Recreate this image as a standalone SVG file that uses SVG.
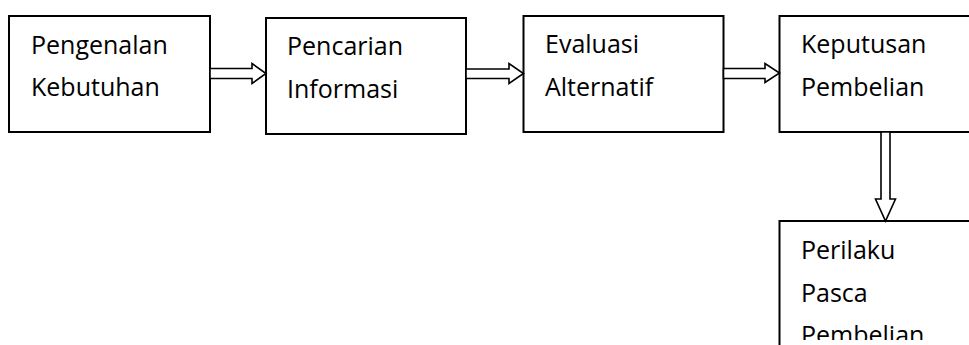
<svg xmlns="http://www.w3.org/2000/svg" width="969" height="345" viewBox="0 0 969 345">
<style>
.box{fill:#fff;stroke:#000;stroke-width:2}
.arr{fill:#fff;stroke:#000;stroke-width:1.6;stroke-linejoin:miter}
text{font-family:"Open Sans","Noto Sans",sans-serif;font-size:25px;fill:#000}
</style>
<defs><clipPath id="clip"><rect x="0" y="0" width="969" height="340"/></clipPath></defs>
<rect width="969" height="345" fill="#fff"/>
<g id="n1"><rect class="box" x="9" y="16" width="201" height="116"/><text x="31" y="54">Pengenalan</text><text x="31" y="96">Kebutuhan</text></g>
<g id="n2"><rect class="box" x="266" y="18" width="200" height="116"/><text x="287" y="55">Pencarian</text><text x="287" y="98">Informasi</text></g>
<g id="n3"><rect class="box" x="523.5" y="16" width="200" height="116"/><text x="545" y="53">Evaluasi</text><text x="545" y="96">Alternatif</text></g>
<g id="n4"><rect class="box" x="779.5" y="16" width="200" height="116"/><text x="801" y="53">Keputusan</text><text x="801" y="96">Pembelian</text></g>
<g id="n5"><rect class="box" x="779.5" y="221" width="200" height="140"/><g clip-path="url(#clip)"><text x="801" y="259">Perilaku</text><text x="801" y="301.5">Pasca</text><text x="801" y="343.5">Pembelian</text></g></g>
<g id="connectors">
<polygon class="arr" points="210,68.5 252,68.5 252,63.5 266,73.5 252,83.5 252,78.5 210,78.5"/>
<polygon class="arr" points="466,69 509,69 509,63.5 523.5,73.5 509,83.5 509,78.5 466,78.5"/>
<polygon class="arr" points="723.5,68.5 765,68.5 765,63.5 779.5,73 765,82.5 765,78.5 723.5,78.5"/>
<polygon class="arr" points="881,132 881,199 875.5,199 885.5,221 895.5,199 890,199 890,132"/>
</g>
</svg>
